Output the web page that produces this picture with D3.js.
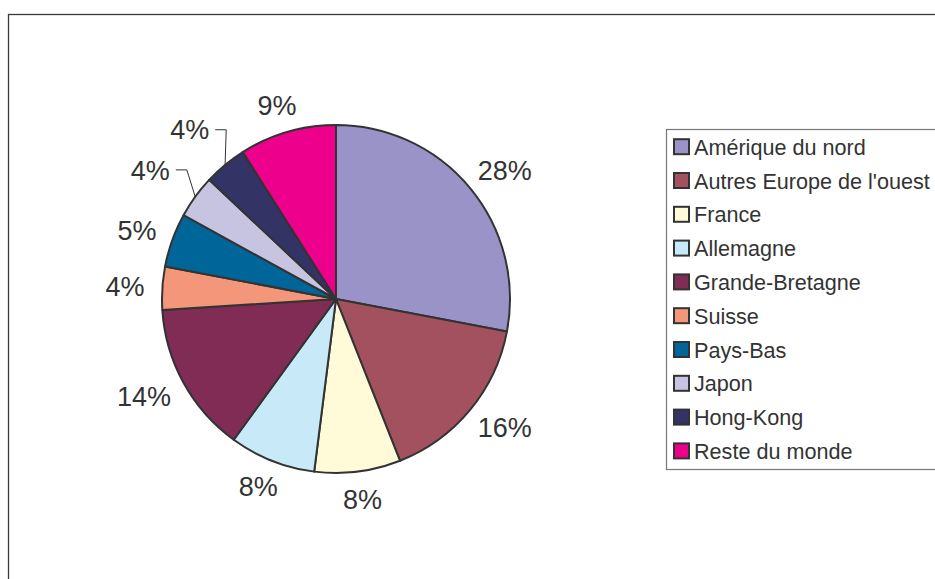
<!DOCTYPE html>
<html>
<head>
<meta charset="utf-8">
<script src="https://cdn.jsdelivr.net/npm/d3@7"></script>
<style>
  html, body { margin: 0; padding: 0; background: #fff; }
  svg { display: block; font-family: "Liberation Sans", Arial, Helvetica, sans-serif; }
</style>
</head>
<body>
<svg id="chart" width="935" height="579"></svg>
<script>
// Répartition par zone géographique
const categories = [
  "Amérique du nord", "Autres Europe de l'ouest", "France", "Allemagne",
  "Grande-Bretagne", "Suisse", "Pays-Bas", "Japon", "Hong-Kong", "Reste du monde"
];
const values = [28, 16, 8, 8, 14, 4, 5, 4, 4, 9];
const colors = [
  "#9a93c8", "#a3515f", "#fffad8", "#c8e9f8", "#812c55",
  "#f4967a", "#006699", "#c7c4e1", "#333366", "#ec008c"
];
// Slices whose labels sit further out, joined by a leader line
const leaderCategories = ["Japon", "Hong-Kong"];

const svg = d3.select("#chart");
const W = 935, H = 579;
const cx = 336, cy = 299, R = 174;
const textColor = "#333333";

// Outer chart frame (runs off the right and bottom edges)
svg.append("rect")
  .attr("x", 8.5).attr("y", 14.5)
  .attr("width", W + 20).attr("height", H + 20)
  .attr("fill", "none").attr("stroke", "#3a3a3a").attr("stroke-width", 1.3);

const total = d3.sum(values);
const pie = d3.pie().sort(null).value(d => d.value).startAngle(0).endAngle(2 * Math.PI);
const arcs = pie(categories.map((c, i) => ({ name: c, value: values[i], color: colors[i] })));
const arc = d3.arc().innerRadius(0).outerRadius(R);

const g = svg.append("g").attr("transform", `translate(${cx},${cy})`);

g.selectAll("path.slice")
  .data(arcs)
  .join("path")
  .attr("class", "slice")
  .attr("d", arc)
  .attr("fill", d => d.data.color)
  .attr("stroke", "#333333")
  .attr("stroke-width", 2)
  .attr("stroke-linejoin", "round");

// Percentage labels placed just outside each slice
const labelSize = 27;
const capHalf = labelSize * 0.716 / 2;
const labels = g.selectAll("text.pct")
  .data(arcs)
  .join("text")
  .attr("class", "pct")
  .attr("font-size", labelSize)
  .attr("fill", textColor)
  .attr("text-anchor", "middle")
  .text(d => Math.round(d.data.value / total * 100) + "%");

labels.each(function(d) {
  const mid = (d.startAngle + d.endAngle) / 2;
  const sx = Math.sin(mid), sy = -Math.cos(mid);
  const hasLeader = leaderCategories.includes(d.data.name);
  const gap = hasLeader ? 36 : 18;
  const hw = this.getComputedTextLength() / 2;
  const lx = (R + gap) * sx + sx * hw;
  const ly = (R + gap) * sy + (-Math.cos(mid)) * capHalf;
  d3.select(this).attr("x", lx).attr("y", ly + capHalf);
  if (hasLeader) {
    const ex = R * sx, ey = R * sy;
    const x0 = lx + hw + 6, x1 = lx + hw + 17;
    g.append("polyline")
      .attr("points", `${x0},${ly} ${x1},${ly} ${ex},${ey}`)
      .attr("fill", "none")
      .attr("stroke", "#333333")
      .attr("stroke-width", 1);
  }
});

// Legend
const legendX = 666.5, legendTop = 129.5, legendBottom = 469.5;
svg.append("rect")
  .attr("x", legendX).attr("y", legendTop)
  .attr("width", W).attr("height", legendBottom - legendTop)
  .attr("fill", "#fff").attr("stroke", "#777777").attr("stroke-width", 1.2);

const rowY = d3.scalePoint()
  .domain(categories)
  .range([146.7, 450.9]);

const items = svg.selectAll("g.legend-item")
  .data(arcs)
  .join("g")
  .attr("class", "legend-item")
  .attr("transform", d => `translate(0,${rowY(d.data.name)})`);

items.append("rect")
  .attr("x", 674).attr("y", -7.5)
  .attr("width", 15).attr("height", 15)
  .attr("fill", d => d.data.color)
  .attr("stroke", "#333333")
  .attr("stroke-width", 2);

items.append("text")
  .attr("x", 694)
  .attr("y", 8)
  .attr("font-size", 21.6)
  .attr("fill", textColor)
  .text(d => d.data.name);
</script>
</body>
</html>
